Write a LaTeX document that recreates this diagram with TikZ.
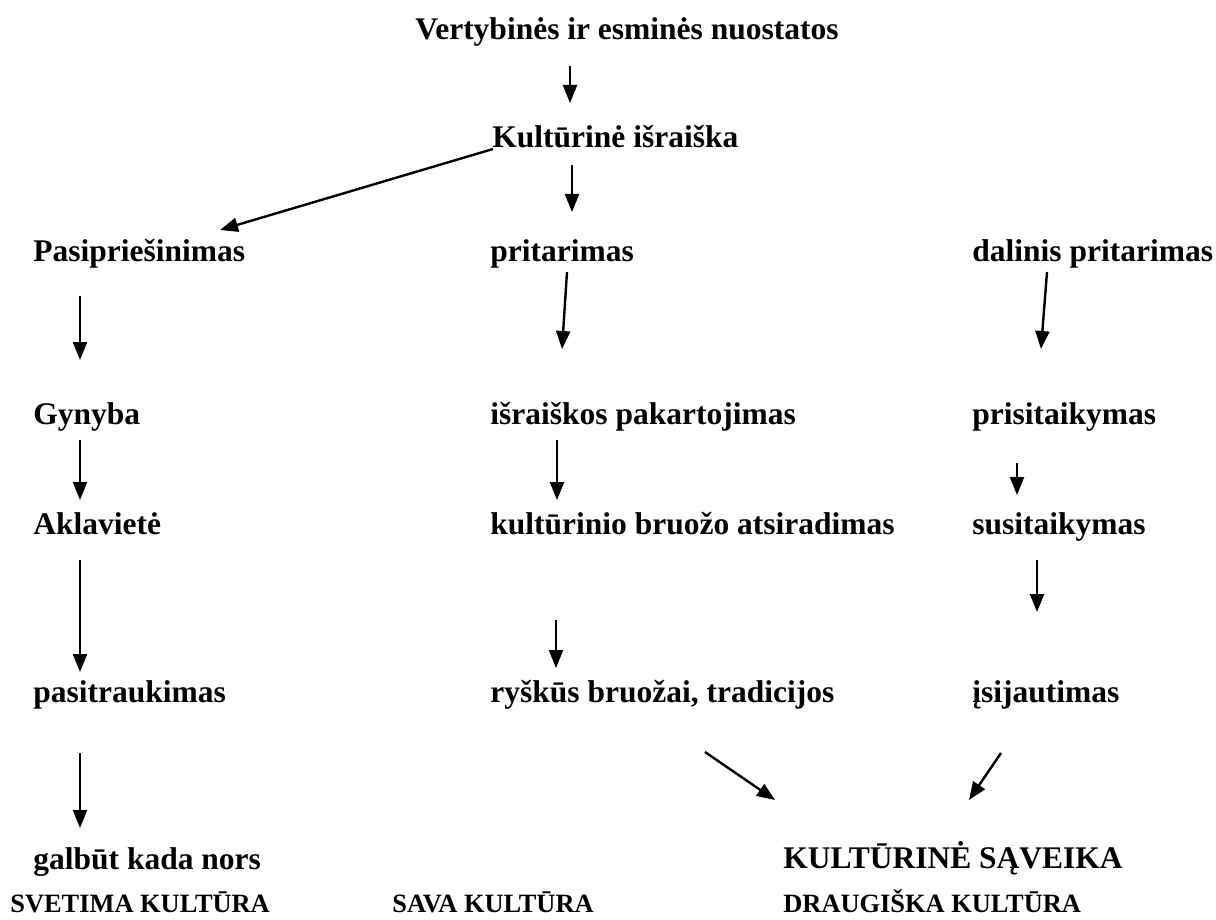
\documentclass[tikz,border=0pt]{standalone}
\usepackage{fontspec}
\setmainfont{Liberation Serif}
\usepackage{tikz}
\usetikzlibrary{arrows.meta, calc}

\begin{document}
\begin{tikzpicture}[
    x=0.5pt, y=-0.5pt,
    label/.style={
        anchor=base west,
        inner sep=0pt,
        font=\bfseries\fontsize{15.75}{18}\selectfont
    },
    culture/.style={
        label,
        font=\bfseries\fontsize{13.2}{16}\selectfont
    },
    arrow/.style={
        -{Triangle[length=9pt, width=7pt]},
        line width=1.2pt
    }
]

\useasboundingbox (0,0) rectangle (1216,920);

\node[label] (values) at (415,40) {Vertybinės ir esminės nuostatos};
\node[label] (expr) at (492,148) {Kultūrinė išraiška};

\node[label] (resist) at (33,261) {Pasipriešinimas};
\node[label] (approve) at (490,261) {pritarimas};
\node[label] (partial) at (972,261) {dalinis pritarimas};

\node[label] (defence) at (33,424) {Gynyba};
\node[label] (repeat) at (490,424) {išraiškos pakartojimas};
\node[label] (adapt) at (972,424) {prisitaikymas};

\node[label] (deadend) at (33,534) {Aklavietė};
\node[label] (trait) at (490,534) {kultūrinio bruožo atsiradimas};
\node[label] (accept) at (972,534) {susitaikymas};

\node[label] (retreat) at (33,702) {pasitraukimas};
\node[label] (tradition) at (490,702) {ryškūs bruožai, tradicijos};
\node[label] (empathy) at (972,702) {įsijautimas};

\node[label] (maybe) at (33,869) {galbūt kada nors};
\node[label] (interact) at (783,868) {KULTŪRINĖ SĄVEIKA};

\node[culture] (foreign) at (10,912) {SVETIMA KULTŪRA};
\node[culture] (own) at (392,912) {SAVA KULTŪRA};
\node[culture] (friendly) at (783,912) {DRAUGIŠKA KULTŪRA};

% middle column
\draw[arrow] ($(values.base west)+(155,26)$) -- ($(expr.base west)+(78,-45)$);
\draw[arrow] ($(expr.base west)+(80,17)$) -- ($(approve.base west)+(82,-49)$);
\draw[arrow] ($(approve.base west)+(77,11)$) -- ($(repeat.base west)+(72,-75)$);
\draw[arrow] ($(repeat.base west)+(67,16)$) -- ($(trait.base west)+(67,-34)$);
\draw[arrow] ($(trait.base west)+(66,86)$) -- ($(tradition.base west)+(66,-34)$);

% left column
\draw[arrow] ($(expr.base west)+(1,1)$) -- ($(resist.base west)+(187,-31)$);
\draw[arrow] ($(resist.base west)+(47,35)$) -- ($(defence.base west)+(47,-64)$);
\draw[arrow] ($(defence.base west)+(47,16)$) -- ($(deadend.base west)+(47,-34)$);
\draw[arrow] ($(deadend.base west)+(47,26)$) -- ($(retreat.base west)+(47,-30)$);
\draw[arrow] ($(retreat.base west)+(47,51)$) -- ($(maybe.base west)+(47,-41)$);

% right column
\draw[arrow] ($(partial.base west)+(75,11)$) -- ($(adapt.base west)+(69,-75)$);
\draw[arrow] ($(adapt.base west)+(45,39)$) -- ($(accept.base west)+(45,-39)$);
\draw[arrow] ($(accept.base west)+(65,26)$) -- ($(empathy.base west)+(65,-90)$);

% to interaction
\draw[arrow] ($(tradition.base west)+(215,50)$) -- ($(interact.base west)+(-8,-68)$);
\draw[arrow] ($(empathy.base west)+(29,51)$) -- ($(interact.base west)+(186,-68)$);

\end{tikzpicture}
\end{document}
